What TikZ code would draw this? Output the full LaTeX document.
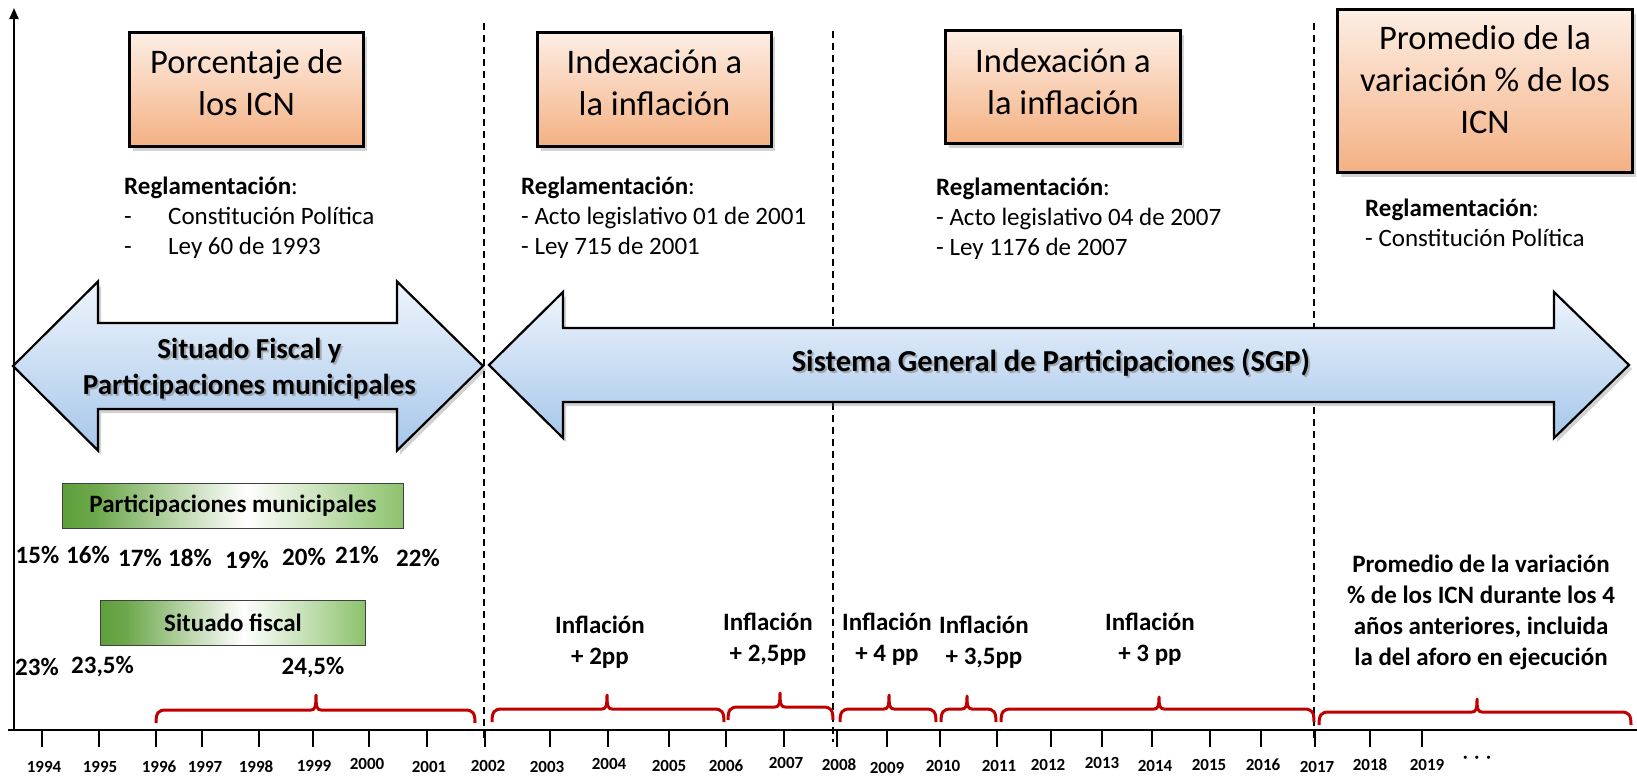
\documentclass[tikz,border=0pt]{standalone}
\usepackage{fontspec}
\setmainfont{Carlito}
\usetikzlibrary{shadows,arrows.meta}
\definecolor{boxtop}{HTML}{FDEEE4}
\definecolor{boxbot}{HTML}{F4B183}
\definecolor{arrtop}{HTML}{EEF4FC}
\definecolor{arrbot}{HTML}{A6C7EA}
\definecolor{gL}{HTML}{5E9F3A}
\definecolor{gR}{HTML}{8CC26C}
\definecolor{bracered}{HTML}{C00000}
\pgfdeclarehorizontalshading{greenbar}{100bp}{color(0bp)=(gL); color(25bp)=(gL); color(30bp)=(gL!90!white); color(52bp)=(white); color(75bp)=(gR); color(100bp)=(gR)}
\newcommand\redbr[5]{%
  \draw[redbrace] (#1,#4+13) .. controls (#1,#4+3) and (#1+2,#4) .. (#1+10,#4)
    -- (#3-5,#4) .. controls (#3-1,#4) and (#3,#4-3) .. (#3,#5)
    .. controls (#3,#4-3) and (#3+1,#4) .. (#3+5,#4)
    -- (#2-10,#4) .. controls (#2-2,#4) and (#2,#4+3) .. (#2,#4+13);}
\tikzset{
  obox/.style={draw=black, line width=2.6pt, top color=boxtop, bottom color=boxbot,
    drop shadow={shadow xshift=3pt, shadow yshift=-4pt, opacity=0.35}, inner sep=0pt, rectangle},
  boxtext/.style={font=\fontsize{34.5}{42}\selectfont, align=center, inner sep=0pt},
  regl/.style={font=\fontsize{25}{30}\selectfont, align=left, anchor=west, inner sep=0pt},
  bigarrow/.style={draw=black, line width=2.2pt, top color=arrtop, bottom color=arrbot,
    drop shadow={shadow xshift=3pt, shadow yshift=-4pt, opacity=0.35}},
  arrtext/.style={font=\fontsize{29}{36}\selectfont\bfseries, align=center, inner sep=0pt},
  arrshadow/.style={arrtext, text=black!50, opacity=0.55},
  gbar/.style={draw=black!75, line width=1pt, shading=greenbar, inner sep=0pt,
    font=\fontsize{25}{30}\selectfont\bfseries},
  pct/.style={font=\fontsize{25}{30}\selectfont\bfseries, inner sep=0pt},
  infl/.style={font=\fontsize{25}{31}\selectfont\bfseries, align=center, inner sep=0pt},
  yr/.style={font=\fontsize{17}{20}\selectfont\bfseries, inner sep=0pt},
  vdash/.style={dash pattern=on 7pt off 5pt, line width=2pt},
  redbrace/.style={draw=bracered, line width=3pt, line join=round},
  tickmark/.style={line width=2pt},
}
\begin{document}
\begin{tikzpicture}[x=1pt,y=-1pt]
\useasboundingbox (0,0) rectangle (1637,777);
\fill[white] (0,0) rectangle (1637,777);

% dashed separators
\draw[vdash] (484,23) -- (484,742);
\draw[vdash] (833,31) -- (833,742);
\draw[vdash] (1314,23) -- (1314,742);

% axes
\draw[line width=2.5pt] (8,730) -- (1637,730);
\draw[line width=2pt, -{Triangle[length=11pt,width=9pt]}] (14,731) -- (14,8);
\foreach \x in {42,99,156,202,259,313,369,427,485,550,608,669,726,784,837,887,940,997,1051,1102,1152,1210,1261,1315,1370,1422}
  \draw[tickmark] (\x,730) -- (\x,747);

% year labels
\foreach \x/\y/\t in {44/767/1994,100/767/1995,159/767/1996,205/767/1997,256/767/1998,314/766/1999,
  367/764/2000,429/767/2001,488/766/2002,547/767/2003,609/764/2004,669/766/2005,726/766/2006,
  786/763/2007,839/765/2008,887/768/2009,943/766/2010,999/766/2011,1048/765/2012,1102/763/2013,
  1155/766/2014,1209/765/2015,1263/765/2016,1317/767/2017,1370/765/2018,1427/765/2019}
  \node[yr] (y\t) at (\x,\y) {\t};
\node[yr] (dots) at (1477,759) {·\hspace{7pt}·\hspace{7pt}·};

% orange boxes
\node[obox, minimum width=234pt, minimum height=114pt] (box1) at (246.5,89.5) {};
\node[boxtext] (box1t) at (246.5,83) {Porcentaje de\\los ICN};
\node[obox, minimum width=234pt, minimum height=114pt] (box2) at (654.5,89.5) {};
\node[boxtext] (box2t) at (654.5,82.5) {Indexación a\\la inflación};
\node[obox, minimum width=235pt, minimum height=113pt] (box3) at (1063,87) {};
\node[boxtext] (box3t) at (1063,82) {Indexación a\\la inflación};
\node[obox, minimum width=295pt, minimum height=163pt] (box4) at (1485,91) {};
\node[boxtext] (box4t) at (1485,80) {Promedio de la\\variación \% de los\\ICN};

% regulations
\node[regl] (reg1) at (124,217.5) {\textbf{Reglamentación}:\\\makebox[44pt][l]{-}Constitución Política\\\makebox[44pt][l]{-}Ley 60 de 1993};
\node[regl] (reg2) at (521,217.5) {\textbf{Reglamentación}:\\- Acto legislativo 01 de 2001\\- Ley 715 de 2001};
\node[regl] (reg3) at (936,219) {\textbf{Reglamentación}:\\- Acto legislativo 04 de 2007\\- Ley 1176 de 2007};
\node[regl] (reg4) at (1365,222.5) {\textbf{Reglamentación}:\\- Constitución Política};

% big arrows
\draw[bigarrow] (13,366) -- (98,281.5) -- (98,323) -- (397,323) -- (397,281.5) -- (483,366)
  -- (397,450.5) -- (397,409) -- (98,409) -- (98,450.5) -- cycle;
\draw[bigarrow] (489,365) -- (563,292) -- (563,328) -- (1554,328) -- (1554,292) -- (1629,365)
  -- (1554,438) -- (1554,402) -- (563,402) -- (563,438) -- cycle;
\node[arrshadow] (a1s) at (251.5,370.5) {Situado Fiscal y\\Participaciones municipales};
\node[arrtext] (a1t) at (249.5,368.5) {Situado Fiscal y\\Participaciones municipales};
\node[arrshadow, font=\fontsize{30.5}{36}\selectfont\bfseries] (a2s) at (1053,365) {Sistema General de Participaciones (SGP)};
\node[arrtext, font=\fontsize{30.5}{36}\selectfont\bfseries] (a2t) at (1051,363) {Sistema General de Participaciones (SGP)};

% green bars
\node[gbar, minimum width=341pt, minimum height=45pt] (gb1) at (233,506) {Participaciones municipales};
\node[gbar, minimum width=265pt, minimum height=45pt] (gb2) at (233,623) {Situado fiscal};

% percentages
\foreach \x/\y/\t in {37.5/555/15,88/555/16,140/558/17,190/558/18,247/560/19,304/557/20,357/555/21,418/558/22}
  \node[pct] (p\t) at (\x,\y) {\t\%};
\node[pct] (p23) at (37,667) {23\%};
\node[pct] (p235) at (102.5,667) {23,5\%};
\node[pct] (p245) at (313,668) {24,5\%};

% inflation labels
\node[infl] (i1) at (600,642) {Inflación\\+ 2pp};
\node[infl] (i2) at (768,639) {Inflación\\+ 2,5pp};
\node[infl] (i3) at (887,639) {Inflación\\+ 4 pp};
\node[infl] (i4) at (984,642) {Inflación\\+ 3,5pp};
\node[infl] (i5) at (1150,639) {Inflación\\+ 3 pp};
\node[infl] (i6) at (1481,612) {Promedio de la variación\\\% de los ICN durante los 4\\años anteriores, incluida\\la del aforo en ejecución};

% red braces
\redbr{156}{475}{316}{710}{695}
\redbr{492}{724}{607}{709}{695}
\redbr{728}{833}{780}{707}{693}
\redbr{840}{936}{889}{709}{695}
\redbr{941}{996}{967}{709}{696}
\redbr{1001}{1314}{1159}{709}{697}
\redbr{1319}{1631}{1477}{712}{699}
\end{tikzpicture}
\end{document}
